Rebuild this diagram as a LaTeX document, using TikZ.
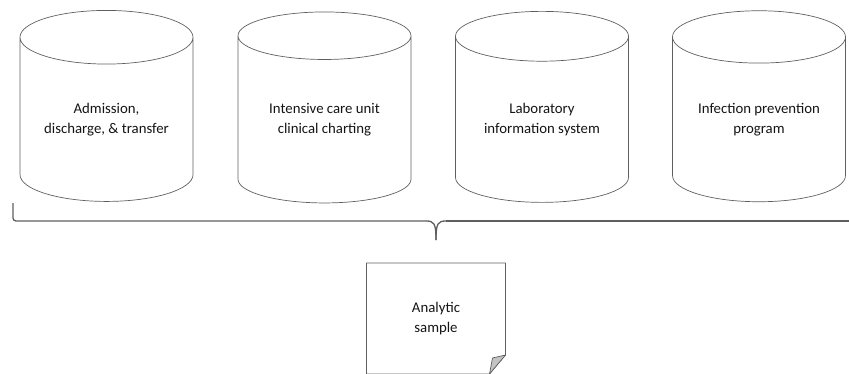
\documentclass[tikz,border=0pt]{standalone}
\usepackage{fontspec}
\setmainfont{Carlito}
\usepackage{tikz}
\usetikzlibrary{shapes.geometric,positioning,calc}
\definecolor{linea}{RGB}{95,95,95}
\definecolor{texto}{RGB}{20,20,20}
\definecolor{pliegue}{RGB}{195,195,195}

\begin{document}
\begin{tikzpicture}[x=1pt,y=-1pt,
  fuente/.style={cylinder,shape border rotate=90,draw=linea,line width=0.7pt,aspect=0.43,
    minimum width=173pt,minimum height=191pt,inner sep=0pt,outer sep=0pt,align=center,
    text=texto,font=\fontsize{14.8}{19.5}\selectfont},
  hoja/.style={rectangle,minimum width=139pt,minimum height=111pt,inner sep=0pt,outer sep=0pt,
    align=center,text=texto,font=\fontsize{14.8}{19.5}\selectfont},
  llave/.style={draw=linea,line width=1.3pt}]
\useasboundingbox (0,0) rectangle (849,373);
\node[fuente] (adt) at (106.5,119.5) {Admission,\\discharge, \& transfer};
\node[fuente] (uci) at (324.5,119.5) {Intensive care unit\\clinical charting};
\node[fuente] (lab) at (542,119.5) {Laboratory\\information system};
\node[fuente] (ipp) at (759,119.5) {Infection prevention\\program};
% llave bajo las cuatro fuentes
\coordinate (punta) at (436,240);
\draw[llave,rounded corners=3pt] (13,203) -- (13,221) -- (426,221);
\draw[llave] (426,221) .. controls (434,221) and (436,223) .. (punta);
\draw[llave] (446,221) .. controls (438,221) and (436,223) .. (punta);
\draw[llave] (446,221) -- (849,221);
\node[hoja,below=23pt of punta] (muestra) {Analytic\\sample};
% hoja con la esquina doblada
\draw[linea,line width=0.7pt,line join=round] (muestra.south west) -- (muestra.north west) -- (muestra.north east)
  -- ($(muestra.north east)+(0,92)$) -- ($(muestra.south east)+(-16,0)$) -- (muestra.south west);
\filldraw[fill=pliegue,draw=linea,line width=0.7pt,line join=round]
  ($(muestra.north east)+(0,92)$) -- ($(muestra.north east)+(-13,95)$) -- ($(muestra.south east)+(-16,0)$) -- cycle;
\end{tikzpicture}
\end{document}
